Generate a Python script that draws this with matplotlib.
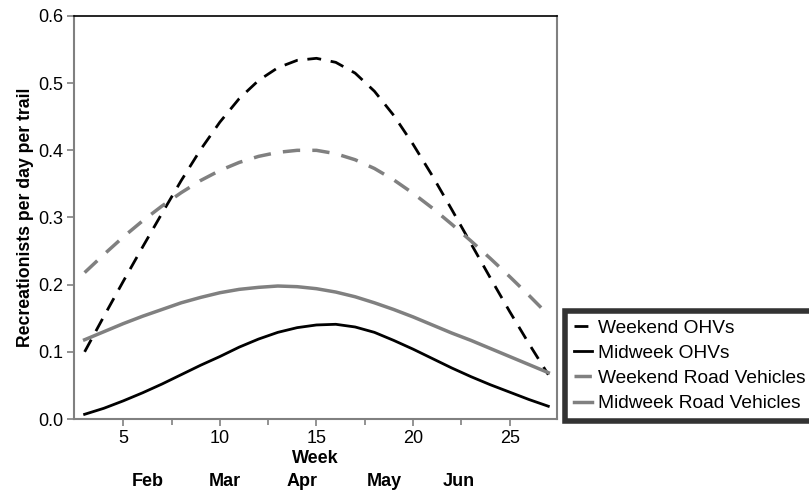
import matplotlib.pyplot as plt

plt.rcParams['font.family'] = ['Liberation Sans', 'DejaVu Sans']

# weekly values
weeks = list(range(3, 28))
weekend_ohv = [0.100, 0.153, 0.205, 0.256, 0.306, 0.355, 0.401, 0.442, 0.477, 0.504,
               0.523, 0.534, 0.537, 0.531, 0.515, 0.488, 0.452, 0.409, 0.362, 0.312,
               0.261, 0.210, 0.160, 0.112, 0.066]
midweek_ohv = [0.007, 0.016, 0.027, 0.039, 0.052, 0.066, 0.080, 0.093, 0.107, 0.119,
               0.129, 0.136, 0.140, 0.141, 0.137, 0.129, 0.117, 0.104, 0.090, 0.076,
               0.063, 0.051, 0.040, 0.029, 0.019]
weekend_road = [0.218, 0.245, 0.271, 0.295, 0.317, 0.337, 0.355, 0.370, 0.382, 0.391,
                0.397, 0.400, 0.400, 0.395, 0.386, 0.373, 0.356, 0.336, 0.314, 0.290,
                0.265, 0.239, 0.212, 0.184, 0.155]
midweek_road = [0.118, 0.130, 0.142, 0.153, 0.163, 0.173, 0.181, 0.188, 0.193, 0.196,
                0.198, 0.197, 0.194, 0.189, 0.182, 0.173, 0.163, 0.152, 0.140, 0.128,
                0.117, 0.105, 0.093, 0.081, 0.069]

months = ['Feb', 'Mar', 'Apr', 'May', 'Jun']
month_weeks = [6.25, 10.26, 14.24, 18.53, 22.35]

grey = '#808080'

fig = plt.figure(figsize=(8.09, 4.9), dpi=100)
ax = fig.add_axes([74/809, 71/490, 483/809, 403/490])

ax.plot(weeks, weekend_ohv, color='black', lw=2, dashes=(5, 3.5), label='Weekend OHVs')
ax.plot(weeks, midweek_ohv, color='black', lw=2, label='Midweek OHVs')
ax.plot(weeks, weekend_road, color=grey, lw=2.5, dashes=(5, 3.5), label='Weekend Road Vehicles')
ax.plot(weeks, midweek_road, color=grey, lw=2.5, label='Midweek Road Vehicles')

ax.set_xlim(2.45, 27.45)
ax.set_ylim(0, 0.6)
ax.set_xticks([5, 10, 15, 20, 25])
ax.set_xticks([7.5, 12.5, 17.5, 22.5], minor=True)
ax.set_yticks([0, 0.1, 0.2, 0.3, 0.4, 0.5, 0.6])
ax.set_yticklabels(['0.0', '0.1', '0.2', '0.3', '0.4', '0.5', '0.6'])
ax.tick_params(axis='both', direction='out', length=5, width=1.2, color=grey,
               labelsize=13, pad=3)
ax.tick_params(axis='x', which='minor', direction='out', length=4, width=1.2, color=grey)

for side in ['left', 'bottom', 'right']:
    ax.spines[side].set_color(grey)
    ax.spines[side].set_linewidth(1.5)
ax.spines['top'].set_color('black')
ax.spines['top'].set_linewidth(1.2)

ax.set_ylabel('Recreationists per day per trail', fontsize=12.7, fontweight='bold', labelpad=3)
ax.set_xlabel('Week', fontsize=13, fontweight='bold', labelpad=2)

for m, w in zip(months, month_weeks):
    ax.text(w, -0.0933, m, fontsize=13, fontweight='bold', ha='center', va='center',
            clip_on=False)

leg = fig.legend(loc='upper left', bbox_to_anchor=(565/809, 1 - 311/490),
                 fontsize=13.8, frameon=True, fancybox=False, handlelength=0.95,
                 handletextpad=0.3, labelspacing=0.4, borderpad=0.45,
                 borderaxespad=0)
leg.get_frame().set_edgecolor('black')
leg.get_frame().set_linewidth(4)

fig.savefig('out.png', dpi=100)
